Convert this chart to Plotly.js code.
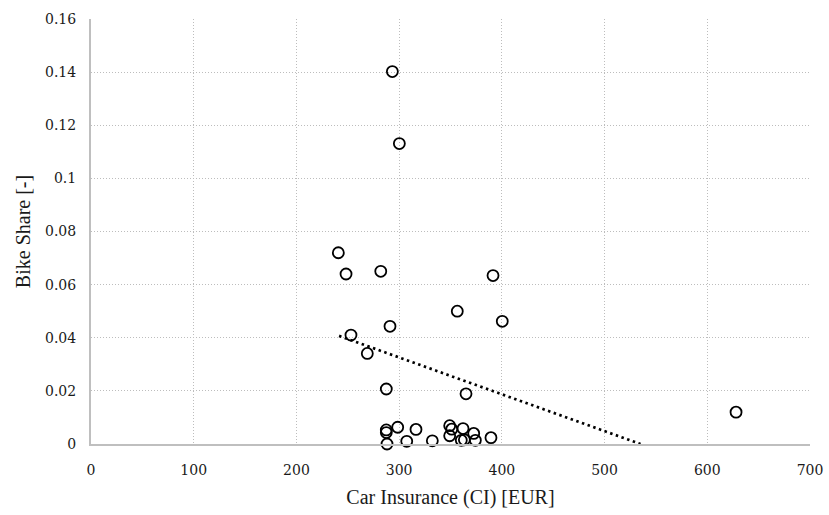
<!DOCTYPE html>
<html>
<head>
<meta charset="utf-8">
<script src="https://cdn.plot.ly/plotly-3.0.1.min.js"></script>
<style>html,body{margin:0;padding:0;background:#fff;}#chart{width:829px;height:515px;}</style>
</head>
<body>
<div id="chart"></div>
<script>
// Car insurance cost [EUR] per city
var carInsurance = [293.4, 300.2, 240.8, 248.3, 282.1, 391.4, 356.6, 400.4, 291.1, 253.1, 269.0, 287.5, 365.1, 628.0,
                    287.5, 287.5, 288.2, 298.6, 307.4, 316.4, 332.3, 349.2, 351.2, 349.2, 362.2, 360.5, 363.5, 372.6, 374.2, 389.4];
// Bike share [-]
var bikeShare = [0.1402, 0.1131, 0.0720, 0.0640, 0.0650, 0.0634, 0.0500, 0.0462, 0.0443, 0.0410, 0.0341, 0.0207, 0.0189, 0.0120,
                 0.0053, 0.0043, 0.0000, 0.0063, 0.0010, 0.0055, 0.0012, 0.0069, 0.0056, 0.0031, 0.0058, 0.0014, 0.0016, 0.0040, 0.0014, 0.0024];
// Linear trendline endpoints (as drawn, clipped at 0)
var trendX = [241.5, 535];
var trendY = [0.0407, 0];

var xTicks = [0, 100, 200, 300, 400, 500, 600, 700];
var yTicks = [0, 0.02, 0.04, 0.06, 0.08, 0.1, 0.12, 0.14, 0.16];
var yTickText = ['0', '0.02', '0.04', '0.06', '0.08', '0.1', '0.12', '0.14', '0.16'];

var fontFam = 'Liberation Serif';
var tickFam = 'DejaVu Serif';

var traces = [
  {
    x: carInsurance, y: bikeShare, type: 'scatter', mode: 'markers',
    marker: {symbol: 'circle-open', size: 11, color: '#000', line: {color: '#111', width: 1.8}},
    cliponaxis: false, showlegend: false, hoverinfo: 'x+y'
  },
  {
    x: trendX, y: trendY, type: 'scatter', mode: 'lines',
    line: {color: '#000', width: 2.7, dash: '2.5px,3.5px'},
    showlegend: false, hoverinfo: 'skip'
  }
];

var layout = {
  width: 829, height: 515,
  margin: {l: 91, r: 19, t: 19, b: 71},
  paper_bgcolor: '#fff', plot_bgcolor: '#fff',
  font: {family: fontFam, size: 17, color: '#1a1a1a'},
  showlegend: false,
  xaxis: {
    range: [0, 700], tickvals: xTicks, ticktext: xTicks.map(String),
    showgrid: true, gridcolor: '#bdbdbd', griddash: '1px,2px', gridwidth: 1,
    showline: true, linecolor: '#bfbfbf', linewidth: 2, zeroline: false,
    ticks: '', ticklabelstandoff: 12,
    tickfont: {family: tickFam, size: 14, color: '#1a1a1a'},
    title: {text: 'Car Insurance (CI) [EUR]', font: {family: fontFam, size: 20, color: '#1a1a1a'}, standoff: 13}
  },
  yaxis: {
    range: [0, 0.16], tickvals: yTicks, ticktext: yTickText,
    showgrid: true, gridcolor: '#bdbdbd', griddash: '1px,2px', gridwidth: 1,
    showline: true, linecolor: '#bfbfbf', linewidth: 2, zeroline: false,
    ticks: '', ticklabelstandoff: 10,
    tickfont: {family: tickFam, size: 14, color: '#1a1a1a'},
    title: {text: 'Bike Share [-]', font: {family: fontFam, size: 20, color: '#1a1a1a'}, standoff: 9}
  }
};

Plotly.newPlot('chart', traces, layout, {displayModeBar: false, staticPlot: true});
</script>
</body>
</html>
